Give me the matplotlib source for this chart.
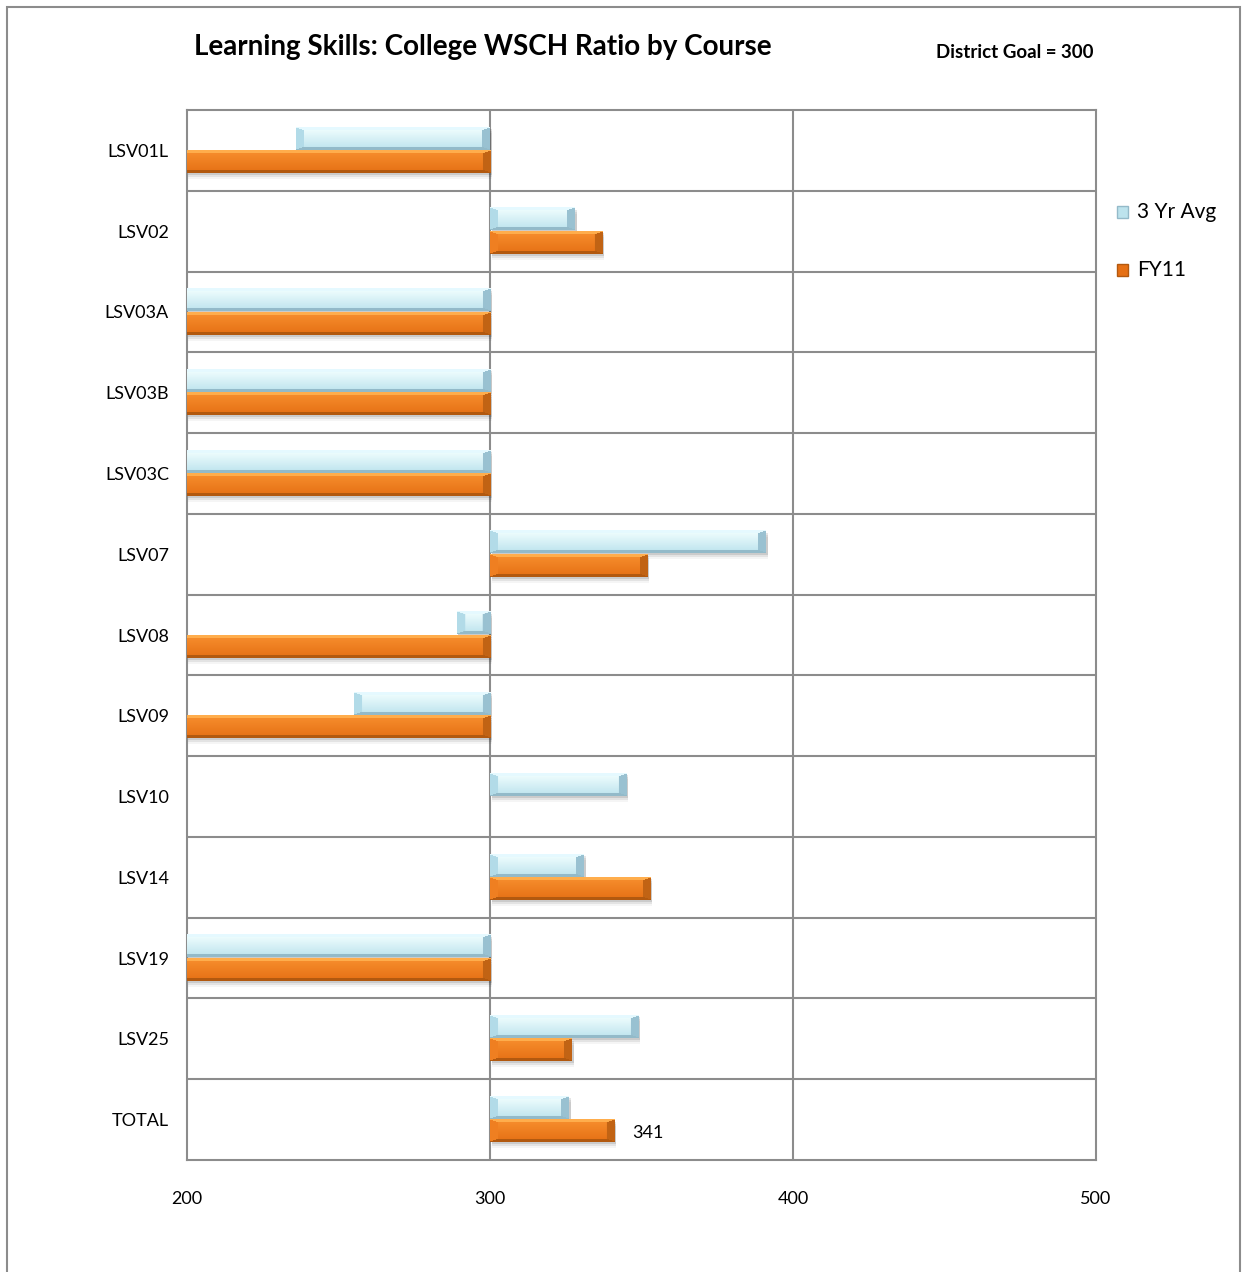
import numpy as np
import matplotlib
matplotlib.use("Agg")
import matplotlib.pyplot as plt
from matplotlib.patches import Rectangle

plt.rcParams['font.family'] = ['Lato', 'DejaVu Sans']

courses = ["LSV01L", "LSV02", "LSV03A", "LSV03B", "LSV03C", "LSV07", "LSV08",
           "LSV09", "LSV10", "LSV14", "LSV19", "LSV25", "TOTAL"]
avg3yr = [236, 328, 0, 0, 0, 391, 289, 255, 345, 331, 0, 349, 326]
fy11 = [0, 337, 0, 0, 0, 352, 0, 0, np.nan, 353, 0, 327, 341]
series_names = ["3 Yr Avg", "FY11"]
x_ticks = [200, 300, 400, 500]
goal = 300

W, H, DPI = 12.47, 12.72, 100
fig = plt.figure(figsize=(W, H), dpi=DPI)
ax = fig.add_axes([187 / 1247, 1 - 1160 / 1272, (1096 - 187) / 1247, (1160 - 110) / 1272])

XMIN, XMAX = 200, 500
n = len(courses)
px_per_x = (1096 - 187) / (XMAX - XMIN)
px_per_y = (1160 - 110) / n

palettes = {
    "blue": dict(top=(0.95, 1.0, 1.0), bottom=(0.74, 0.89, 0.93),
                 hi=(0.90, 0.98, 1.0), lo=(0.58, 0.73, 0.79),
                 side_l=(0.70, 0.86, 0.91), side_r=(0.60, 0.76, 0.82)),
    "orange": dict(top=(0.97, 0.56, 0.18), bottom=(0.90, 0.44, 0.08),
                   hi=(1.0, 0.68, 0.30), lo=(0.70, 0.35, 0.06),
                   side_l=(0.94, 0.50, 0.13), side_r=(0.76, 0.39, 0.08)),
}


def bevel_image(nx, ny, pal, edge_tb=3.0, edge_side=8.0):
    nx = max(int(round(nx)), 2)
    ny = max(int(round(ny)), 2)
    t = np.linspace(0, 1, ny)[:, None, None]
    top = np.array(pal["top"])
    bot = np.array(pal["bottom"])
    img = (1 - t) * top + t * bot
    img = np.broadcast_to(img, (ny, nx, 3)).copy()
    ii, jj = np.mgrid[0:ny, 0:nx].astype(float)
    s = edge_tb / edge_side
    d = np.stack([ii, ny - 1 - ii, jj * s, (nx - 1 - jj) * s])
    face = np.argmin(d, axis=0)
    edge = np.min(d, axis=0) < edge_tb
    shades = [pal["hi"], pal["lo"], pal["side_l"], pal["side_r"]]
    for k, c in enumerate(shades):
        img[edge & (face == k)] = c
    return img


def draw_bar(y, value, height, pal):
    if value is None or np.isnan(value):
        return
    x0, x1 = sorted([goal, value])
    if x1 - x0 <= 0:
        return
    y0, y1 = y - height / 2, y + height / 2
    # soft drop shadow
    for k, a in enumerate([0.10, 0.07, 0.04]):
        off = (2 + 2 * k) / px_per_y
        ax.add_patch(Rectangle((x0 + 0.6, y0 + off), x1 - x0, height,
                               facecolor="black", alpha=a, lw=0, zorder=2))
    img = bevel_image((x1 - x0) * px_per_x, height * px_per_y, pal)
    ax.imshow(img, extent=(x0, x1, y1, y0), origin="upper", aspect="auto",
              interpolation="bilinear", zorder=3)


bar_h = 0.28
for i in range(n):
    draw_bar(i - 0.15, avg3yr[i], bar_h, palettes["blue"])
    draw_bar(i + 0.14, fy11[i], bar_h, palettes["orange"])

ax.set_xlim(XMIN, XMAX)
ax.set_ylim(n - 0.5, -0.5)
ax.set_aspect("auto")

grid_c = "#8c8c8c"
for i in range(n - 1):
    ax.axhline(i + 0.5, color=grid_c, lw=1.5, zorder=1)
for xv in x_ticks[1:-1]:
    ax.axvline(xv, color=grid_c, lw=1.5, zorder=1)
for s in ax.spines.values():
    s.set_color(grid_c)
    s.set_linewidth(1.5)

ax.set_yticks(range(n))
ax.set_yticklabels(courses, fontsize=13)
ax.set_xticks(x_ticks)
ax.set_xticklabels([str(v) for v in x_ticks], fontsize=13)
ax.tick_params(axis="y", length=0, pad=13)
ax.tick_params(axis="x", length=0, pad=22)

# data label on the total FY11 bar
ti = courses.index("TOTAL")
ax.text(fy11[ti] + 6, ti + 0.17, f"{fy11[ti]:.0f}", fontsize=13,
        va="center", ha="left", zorder=4)

fig.text(483 / 1247, 1 - 47 / 1272, "Learning Skills: College WSCH Ratio by Course",
         fontsize=20, fontweight="bold", ha="center", va="center")
fig.text(1015 / 1247, 1 - 53 / 1272, f"District Goal = {goal}",
         fontsize=13.5, fontweight="bold", ha="center", va="center")

# legend
leg_cols = [palettes["blue"]["bottom"], palettes["orange"]["bottom"]]
leg_edge = [palettes["blue"]["lo"], palettes["orange"]["lo"]]
for k, (name, c, e) in enumerate(zip(series_names, leg_cols, leg_edge)):
    yc = 1 - (212 + 58 * k) / 1272
    fig.add_artist(Rectangle((1117 / 1247, yc - 6 / 1272), 11 / 1247, 12 / 1272,
                             transform=fig.transFigure, facecolor=c,
                             edgecolor=e, lw=1))
    fig.text(1137 / 1247, yc, name, fontsize=15, ha="left", va="center")

# outer chart border
fig.add_artist(Rectangle((7 / 1247, -0.01), (1240 - 7) / 1247, 1 - 7 / 1272 + 0.01,
                         transform=fig.transFigure, fill=False,
                         edgecolor="#8c8c8c", lw=1.5))

fig.savefig("out.png", dpi=DPI)
